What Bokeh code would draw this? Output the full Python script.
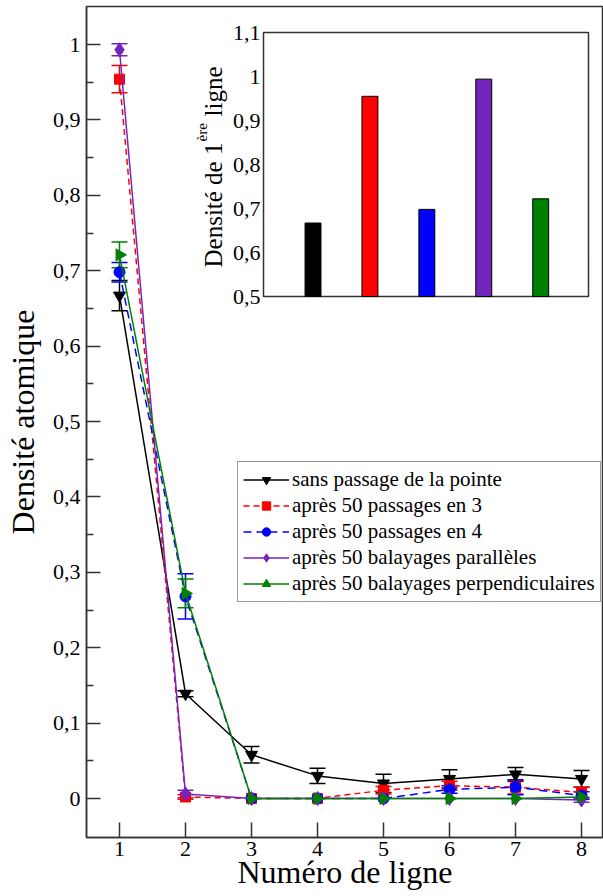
import math
from bokeh.plotting import figure
from bokeh.models import (ColumnDataSource, Range1d, FixedTicker, Whisker, TeeHead,
                          Legend, LegendItem, CustomJSTickFormatter)
from bokeh.core.properties import value
from bokeh.embed import file_html
from bokeh.resources import INLINE

# ---------------- data ----------------
lines = [1, 2, 3, 4, 5, 6, 7, 8]
series_names = ["sans passage de la pointe", "après 50 passages en 3", "après 50 passages en 4",
                "après 50 balayages parallèles", "après 50 balayages perpendiculaires"]
sans_passage = [0.667, 0.139, 0.058, 0.030, 0.020, 0.026, 0.032, 0.026]
sans_passage_err = [0.020, 0.004, 0.011, 0.010, 0.012, 0.012, 0.009, 0.011]
passages_3 = [0.954, 0.002, 0.0, 0.0, 0.011, 0.017, 0.015, 0.008]
passages_3_err = [0.018, 0.003, 0.0, 0.0, 0.005, 0.006, 0.009, 0.007]
passages_4 = [0.698, 0.268, 0.0, 0.0, 0.0, 0.012, 0.015, 0.004]
passages_4_err = [0.013, 0.030, 0.0, 0.0, 0.0, 0.005, 0.010, 0.005]
balayages_par = [0.993, 0.006, 0.0, 0.0, 0.0, 0.0, 0.0, -0.002]
balayages_par_err = [0.008, 0.005, 0.0, 0.0, 0.0, 0.0, 0.0, 0.003]
balayages_perp = [0.721, 0.272, 0.0, 0.0, 0.0, 0.0, 0.0, 0.002]
balayages_perp_err = [0.017, 0.019, 0.0, 0.0, 0.0, 0.0, 0.0, 0.0]

y_ticks = [0.0, 0.1, 0.2, 0.3, 0.4, 0.5, 0.6, 0.7, 0.8, 0.9, 1.0]
y_tick_labels = ["0", "0,1", "0,2", "0,3", "0,4", "0,5", "0,6", "0,7", "0,8", "0,9", "1"]
y_minor_ticks = [0.05, 0.15, 0.25, 0.35, 0.45, 0.55, 0.65, 0.75, 0.85, 0.95]

inset_x = [1, 2, 3, 4, 5]
inset_values = [0.667, 0.955, 0.698, 0.994, 0.722]
inset_ticks = [0.5, 0.6, 0.7, 0.8, 0.9, 1.0, 1.1]
inset_tick_labels = ["0,5", "0,6", "0,7", "0,8", "0,9", "1", "1,1"]

# ---------------- style ----------------
FONT_NAME = "Liberation Serif"
FONT = value(FONT_NAME)
colors = ["#000000", "#ff0000", "#0000ff", "#7326be", "#008000"]
markers = ["inverted_triangle", "square", "circle", "diamond", "triangle"]
marker_sizes = [12, 10, 11, 14, 12]
marker_angles = [0, 0, 0, 0, -math.pi / 2]
dashes = ["solid", "6 4", "8 5", "solid", "solid"]
AX = "#333333"

# layout (canvas px)
W, H = 603, 896
FRAME_L, FRAME_R, FRAME_T, FRAME_B = 86, 603, 6, 837
Y0_PX, Y1_PX = 798, 44          # where 0 and 1 sit
INSET_L, INSET_R, INSET_T, INSET_B = 263, 588, 32, 296
inset_x_lo, inset_x_hi = 0.13, 5.84
inset_y_lo, inset_y_hi = 0.5, 1.1

ppu = (Y0_PX - Y1_PX) / 1.0
y_hi = 1.0 + (Y1_PX - FRAME_T) / ppu
y_lo = 0.0 - (FRAME_B - Y0_PX) / ppu

ixp = (INSET_R - INSET_L) / (inset_x_hi - inset_x_lo)
iyp = (INSET_B - INSET_T) / (inset_y_hi - inset_y_lo)
ix_start = inset_x_lo - (INSET_L - FRAME_L) / ixp
ix_end = inset_x_hi + (FRAME_R - INSET_R) / ixp
iy_start = inset_y_lo - (FRAME_B - INSET_B) / iyp
iy_end = inset_y_hi + (INSET_T - FRAME_T) / iyp


def inset_pt(px, py):
    return inset_x_lo + (px - INSET_L) / ixp, inset_y_lo + (INSET_B - py) / iyp


p = figure(width=W, height=H, x_range=Range1d(0.5, 8.333), y_range=Range1d(y_lo, y_hi),
           output_backend="svg", toolbar_location=None,
           min_border_left=FRAME_L, min_border_right=W - FRAME_R,
           min_border_top=FRAME_T, min_border_bottom=H - FRAME_B)
p.extra_x_ranges = {"ix": Range1d(ix_start, ix_end)}
p.extra_y_ranges = {"iy": Range1d(iy_start, iy_end)}
p.grid.visible = False
p.outline_line_color = AX
p.outline_line_width = 1.5
p.background_fill_color = "white"
p.border_fill_color = "white"

for ax in (p.xaxis[0], p.yaxis[0]):
    ax.axis_line_color = AX
    ax.axis_line_width = 1.5
    ax.major_tick_line_color = AX
    ax.major_tick_line_width = 1.5
    ax.minor_tick_line_color = AX
    ax.minor_tick_line_width = 1.5
    ax.major_tick_out = 0
    ax.minor_tick_out = 0
    ax.major_label_text_font = FONT_NAME
    ax.major_label_text_font_size = "22px"
    ax.major_label_text_font_style = "normal"
    ax.major_label_text_color = "black"
    ax.axis_label_text_font = FONT_NAME
    ax.axis_label_text_font_size = "32px"
    ax.axis_label_text_font_style = "normal"
    ax.axis_label_text_color = "black"

p.xaxis.ticker = FixedTicker(ticks=lines)
p.xaxis.major_tick_in = 15
p.xaxis.minor_tick_in = 0
p.xaxis.major_label_standoff = 4
p.xaxis.axis_label = "Numéro de ligne"
p.xaxis.axis_label_standoff = -5

p.yaxis.ticker = FixedTicker(ticks=y_ticks, minor_ticks=y_minor_ticks)
p.yaxis.formatter = CustomJSTickFormatter(args=dict(tvals=y_ticks, tlabels=y_tick_labels), code="""
let b = 0;
for (let i = 0; i < tvals.length; i++) { if (Math.abs(tvals[i] - tick) < Math.abs(tvals[b] - tick)) b = i; }
return tlabels[b];
""")
p.yaxis.major_tick_in = 14
p.yaxis.minor_tick_in = 7
p.yaxis.major_label_standoff = 6
p.yaxis.axis_label = "Densité atomique"
p.yaxis.axis_label_standoff = 9

# ---------------- main series ----------------
all_vals = [sans_passage, passages_3, passages_4, balayages_par, balayages_perp]
all_errs = [sans_passage_err, passages_3_err, passages_4_err, balayages_par_err, balayages_perp_err]
items = []
for name, vals, errs, c, m, ms, ang, d in zip(series_names, all_vals, all_errs, colors, markers,
                                              marker_sizes, marker_angles, dashes):
    src = ColumnDataSource(dict(x=lines, y=vals, a=[ang] * len(lines)))
    lr = p.line("x", "y", source=src, line_color=c, line_width=1.5, line_dash=d)
    wx = [x for x, e in zip(lines, errs) if e > 0]
    wu = [v + e for v, e in zip(vals, errs) if e > 0]
    wl = [v - e for v, e in zip(vals, errs) if e > 0]
    wsrc = ColumnDataSource(dict(x=wx, upper=wu, lower=wl))
    p.add_layout(Whisker(source=wsrc, base="x", upper="upper", lower="lower",
                         line_color=c, line_width=1.5,
                         upper_head=TeeHead(size=16, line_color=c, line_width=1.5),
                         lower_head=TeeHead(size=16, line_color=c, line_width=1.5)))
    sr = p.scatter("x", "y", source=src, marker=m, size=ms, angle="a",
                   fill_color=c, line_color=c)
    items.append(LegendItem(label=name, renderers=[lr, sr], index=0))

legend = Legend(items=items, location=(237 - FRAME_L, FRAME_B - 602))
legend.label_text_font = FONT_NAME
legend.label_text_font_size = "21px"
legend.label_text_font_style = "normal"
legend.label_text_color = "black"
legend.label_height = 21
legend.glyph_height = 21
legend.glyph_width = 46
legend.label_standoff = 3
legend.spacing = 1
legend.padding = 5
legend.margin = 0
legend.border_line_color = AX
legend.border_line_width = 1.5
legend.background_fill_alpha = 1.0
p.add_layout(legend)

# ---------------- inset ----------------
p.quad(left=[inset_x_lo], right=[inset_x_hi], bottom=[inset_y_lo], top=[inset_y_hi],
       fill_color="white", line_color=AX, line_width=1.5,
       x_range_name="ix", y_range_name="iy")
p.vbar(x=inset_x, top=inset_values, bottom=inset_y_lo, width=0.28,
       fill_color=colors, line_color="black", line_width=1,
       x_range_name="ix", y_range_name="iy")
tsrc = ColumnDataSource(dict(x=[inset_x_lo] * len(inset_ticks), y=inset_ticks, t=inset_tick_labels))
p.text("x", "y", text="t", source=tsrc, x_offset=-3, text_align="right", text_baseline="middle",
       text_font=FONT, text_font_size="22px", text_color="black",
       x_range_name="ix", y_range_name="iy")

label_parts = [("Densité de 1", 213, 267, "25px"),
               ("ère", 201, 141, "15px"),
               ("ligne", 213, 116, "25px")]
for txt, px, py, fs in label_parts:
    lx, ly = inset_pt(px, py)
    p.text(x=[lx], y=[ly], text=[txt], angle=math.pi / 2, text_align="left",
           text_baseline="alphabetic", text_font=FONT, text_font_size=fs, text_color="black",
           x_range_name="ix", y_range_name="iy")

open("out.html", "w").write(file_html(p, INLINE))
